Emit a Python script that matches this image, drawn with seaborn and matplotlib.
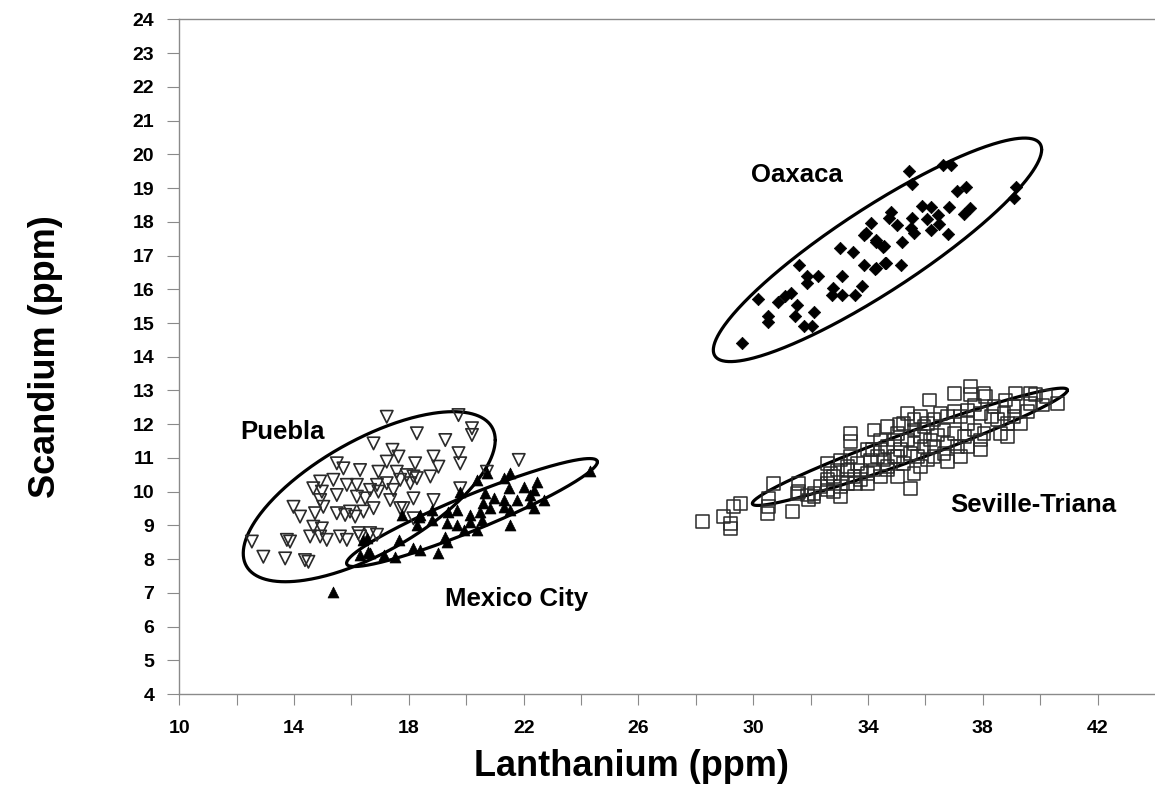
import numpy as np
import pandas as pd
import matplotlib
matplotlib.use("Agg")
import matplotlib.pyplot as plt
import seaborn as sns

# ---------------- data ----------------
puebla_x = [17.23, 18.28, 16.77, 17.43, 17.64, 17.23, 18.22, 15.49, 15.72, 16.30, 16.94, 17.58,
            17.93, 18.28, 15.37, 14.91, 15.84, 16.19, 16.89, 17.23, 17.70, 18.05, 14.67, 14.97,
            15.49, 16.65, 16.94, 17.46, 14.91, 16.19, 16.48, 13.98, 14.21, 14.73, 15.02, 15.49,
            15.78, 15.95, 16.13, 16.42, 16.77, 17.35, 17.81, 14.67, 14.97, 14.56, 14.91, 15.14,
            15.60, 16.24, 16.89, 13.75, 13.86, 12.53, 12.93, 13.69, 14.38, 14.50, 19.73, 20.20,
            20.20, 19.27, 19.73, 19.79, 18.86, 19.03, 18.75, 18.16, 21.83, 20.72, 19.79, 18.86,
            18.16, 17.70, 18.16, 16.65, 16.30, 15.84]
puebla_y = [12.22, 11.73, 11.43, 11.24, 11.04, 10.89, 10.84, 10.84, 10.69, 10.64, 10.59, 10.59,
            10.49, 10.40, 10.35, 10.30, 10.20, 10.20, 10.20, 10.25, 10.35, 10.25, 10.10, 10.00,
            9.90, 10.05, 10.00, 10.05, 9.75, 9.85, 9.80, 9.55, 9.26, 9.36, 9.55, 9.36,
            9.31, 9.41, 9.26, 9.41, 9.51, 9.75, 9.51, 8.96, 8.91, 8.67, 8.67, 8.57,
            8.67, 8.77, 8.72, 8.57, 8.52, 8.52, 8.07, 8.02, 7.97, 7.92, 12.27, 11.88,
            11.68, 11.53, 11.14, 10.84, 11.04, 10.74, 10.45, 10.45, 10.94, 10.59, 10.10, 9.75,
            9.80, 9.51, 9.21, 8.77, 8.67, 8.57]

mexico_x = [19.79, 20.37, 20.72, 21.30, 21.53, 21.48, 22.00, 22.47, 22.35, 22.70, 22.23, 22.35,
            21.77, 21.30, 21.30, 21.53, 20.95, 20.66, 20.60, 20.84, 20.49, 20.55, 20.14, 20.14,
            20.37, 19.91, 19.68, 19.68, 19.38, 19.33, 19.27, 19.33, 18.80, 18.40, 18.80, 18.28,
            17.76, 17.64, 18.16, 18.40, 19.03, 21.53, 16.42, 16.30, 16.65, 17.12, 17.52, 16.59,
            16.54, 15.37, 18.34, 24.30, 22.23]
mexico_y = [10.00, 10.35, 10.55, 10.40, 10.55, 10.10, 10.15, 10.30, 10.05, 9.75, 9.65, 9.51,
            9.75, 9.75, 9.55, 9.46, 9.80, 9.95, 9.65, 9.51, 9.41, 9.16, 9.31, 9.11,
            8.86, 8.86, 9.01, 9.46, 9.41, 9.06, 8.67, 8.52, 9.46, 9.31, 9.16, 9.01,
            9.31, 8.57, 8.32, 8.27, 8.17, 9.01, 8.57, 8.12, 8.17, 8.12, 8.07, 8.22,
            8.62, 7.03, 9.26, 10.60, 9.90]

oaxaca_x = [29.62, 30.17, 30.52, 30.52, 30.87, 31.10, 31.30, 31.53, 31.45, 31.77, 32.06, 32.12,
            31.59, 31.88, 32.27, 31.88, 32.79, 33.10, 32.76, 33.55, 33.78, 33.08, 33.01, 33.48,
            33.86, 34.24, 33.86, 34.09, 34.27, 34.53, 34.59, 35.43, 35.55, 36.63, 36.88, 37.11,
            37.41, 36.82, 37.55, 37.33, 35.89, 36.18, 36.07, 36.44, 36.47, 36.21, 36.80, 34.79,
            34.73, 35.02, 35.55, 35.49, 35.60, 35.20, 33.92, 34.27, 34.56, 34.27, 34.61, 35.14,
            39.15, 39.09]
oaxaca_y = [14.40, 15.71, 15.22, 15.02, 15.61, 15.81, 15.88, 15.54, 15.22, 14.92, 14.92, 15.32,
            16.72, 16.40, 16.40, 16.20, 16.03, 15.83, 15.83, 15.83, 16.10, 16.40, 17.22, 17.10,
            16.72, 16.59, 17.61, 17.96, 17.46, 17.26, 16.79, 19.52, 19.11, 19.70, 19.68, 18.90,
            19.03, 18.43, 18.42, 18.23, 18.46, 18.43, 18.09, 18.19, 17.94, 17.75, 17.65, 18.30,
            18.10, 17.91, 18.10, 17.81, 17.66, 17.41, 17.66, 17.41, 17.27, 16.62, 16.77, 16.72,
            19.03, 18.70]

seville_x = [28.22, 28.97, 29.21, 29.21, 29.32, 29.56, 30.54, 30.54, 30.49, 30.72, 31.36, 31.59,
             31.59, 31.88, 31.94, 32.12, 32.58, 32.70, 32.58, 32.81, 33.05, 33.39, 33.39, 33.28,
             33.51, 33.28, 33.74, 33.97, 34.21, 34.15, 34.09, 34.44, 34.56, 34.67, 34.91, 35.02,
             35.02, 35.08, 35.49, 36.13, 37.58, 37.58, 38.10, 39.15, 39.85, 40.20, 40.60, 40.08,
             39.67, 39.56, 39.09, 38.80, 38.74, 38.39, 39.32, 38.86, 38.51, 38.29, 37.93, 37.70,
             37.47, 37.23, 37.00, 36.77, 36.53, 36.30, 36.07, 37.47, 37.70, 38.04, 38.63, 38.86,
             37.93, 37.35, 37.00, 36.65, 36.42, 36.18, 35.83, 35.60, 35.60, 35.37, 35.95, 36.30,
             36.77, 37.12, 37.47, 37.93, 37.23, 36.65, 36.77, 36.30, 36.07, 35.72, 35.49, 35.14,
             34.91, 35.25, 35.83, 35.60, 34.67, 34.21, 34.44, 33.97, 33.74, 34.32, 33.97, 34.67,
             34.44, 35.25, 35.60, 35.83, 35.37, 35.95, 34.67, 35.02, 33.39, 33.05, 32.93, 32.81,
             33.62, 33.28, 32.58, 32.35, 32.12, 31.53, 32.58, 33.05, 33.57, 37.00, 38.04, 39.67,
             39.09]
seville_y = [9.11, 9.26, 9.06, 8.91, 9.56, 9.66, 9.80, 9.56, 9.36, 10.25, 9.41, 10.25,
             10.00, 9.90, 9.75, 9.85, 10.84, 10.55, 10.25, 10.00, 9.85, 11.73, 11.48, 10.64,
             10.45, 10.25, 10.64, 10.25, 11.83, 11.24, 10.94, 11.24, 10.94, 10.64, 11.53, 11.04,
             10.45, 11.98, 10.10, 12.72, 13.11, 12.87, 12.82, 12.92, 12.87, 12.82, 12.62, 12.57,
             12.62, 12.37, 12.52, 12.72, 12.32, 12.52, 12.03, 12.03, 12.13, 12.22, 12.32, 12.57,
             12.42, 12.22, 12.37, 12.22, 12.32, 12.13, 12.03, 12.03, 11.83, 11.73, 11.73, 11.63,
             11.53, 11.63, 11.73, 11.83, 11.68, 11.53, 11.63, 11.83, 11.43, 11.53, 11.33, 11.33,
             11.43, 11.33, 11.33, 11.24, 11.04, 11.14, 10.89, 11.04, 10.94, 11.04, 11.14, 11.24,
             11.04, 10.84, 10.74, 10.55, 10.74, 10.64, 10.45, 10.55, 10.35, 11.04, 11.24, 11.33,
             11.53, 12.03, 12.13, 12.22, 12.32, 11.93, 11.93, 11.73, 11.04, 10.94, 10.64, 10.45,
             10.84, 10.74, 10.35, 10.15, 9.95, 9.95, 10.05, 10.15, 10.25, 12.92, 12.92, 12.92,
             12.22]

# ellipse parameters: center (cx, cy), half x-extent ux, y offset of rightmost point uy,
# half vertical chord through the centre h
ellipse_names = ["Puebla", "Mexico City", "Oaxaca", "Seville-Triana"]
ellipse_cx = [16.62, 20.20, 34.33, 35.46]
ellipse_cy = [9.85, 9.38, 17.17, 11.33]
ellipse_ux = [4.39, 4.37, 5.72, 5.49]
ellipse_uy = [1.68, 1.50, 2.97, 1.68]
ellipse_h = [1.88, 0.56, 1.47, 0.45]

label_x = [12.12, 19.27, 29.91, 36.88]
label_y = [11.77, 6.82, 19.39, 9.60]

x_ticks = list(range(10, 43, 2))
y_ticks = list(range(4, 25))

# ---------------- figure ----------------
sns.set_theme(style="white")
plt.rcParams["font.family"] = ["Liberation Sans", "DejaVu Sans"]
plt.rcParams["font.weight"] = "bold"
plt.rcParams["text.color"] = "black"
plt.rcParams["axes.labelcolor"] = "black"
plt.rcParams["xtick.color"] = "black"
plt.rcParams["ytick.color"] = "black"

fig = plt.figure(figsize=(11.55, 7.89), dpi=100)
ax = fig.add_axes([0.1552, 0.1204, 0.8448, 0.8549])

# ellipses
t = np.linspace(0, 2 * np.pi, 400)
for cx, cy, ux, uy, h in zip(ellipse_cx, ellipse_cy, ellipse_ux, ellipse_uy, ellipse_h):
    ex = cx + ux * np.cos(t)
    ey = cy + uy * np.cos(t) + h * np.sin(t)
    ax.plot(ex, ey, color="black", lw=2.3, zorder=1)

df_p = pd.DataFrame({"La": puebla_x, "Sc": puebla_y})
df_m = pd.DataFrame({"La": mexico_x, "Sc": mexico_y})
df_o = pd.DataFrame({"La": oaxaca_x, "Sc": oaxaca_y})
df_s = pd.DataFrame({"La": seville_x, "Sc": seville_y})

sns.scatterplot(data=df_s, x="La", y="Sc", marker="s", s=85, facecolor="none",
                edgecolor="#2a2a2a", linewidth=1.1, ax=ax, zorder=2)
sns.scatterplot(data=df_p, x="La", y="Sc", marker="v", s=80, facecolor="none",
                edgecolor="#2a2a2a", linewidth=1.2, ax=ax, zorder=2)
sns.scatterplot(data=df_m, x="La", y="Sc", marker="^", s=62, color="black",
                edgecolor="black", linewidth=0.5, ax=ax, zorder=3)
sns.scatterplot(data=df_o, x="La", y="Sc", marker="D", s=40, color="black",
                edgecolor="black", linewidth=0.5, ax=ax, zorder=3)

for name, lx, ly in zip(ellipse_names, label_x, label_y):
    ax.text(lx, ly, name, fontsize=18.5, fontweight="bold", ha="left", va="center",
            color="black")

ax.set_xlim(10, 44)
ax.set_ylim(4, 24)
ax.set_xticks(x_ticks)
ax.set_xticklabels([str(v) if (v - 10) % 4 == 0 else "" for v in x_ticks])
ax.set_yticks(y_ticks)
ax.set_yticklabels([str(v) for v in y_ticks])

for side in ["left", "bottom", "top"]:
    ax.spines[side].set_visible(True)
    ax.spines[side].set_color("#8a8a8a")
    ax.spines[side].set_linewidth(1.0)
ax.spines["right"].set_visible(False)

ax.tick_params(axis="x", direction="out", length=8, width=0.8, color="#8a8a8a",
               labelcolor="black", bottom=True, pad=11, labelsize=14)
ax.tick_params(axis="y", direction="out", length=9, width=0.8, color="#8a8a8a",
               labelcolor="black", left=True, pad=9, labelsize=14)
for lab in ax.get_xticklabels() + ax.get_yticklabels():
    lab.set_fontweight("bold")

ax.set_xlabel("Lanthanium (ppm)", fontsize=26, fontweight="bold", labelpad=8,
              x=0.463, color="black")
ax.set_ylabel("Scandium (ppm)", fontsize=26, fontweight="bold", labelpad=50,
              color="black")
ax.grid(False)

fig.savefig("out.png", dpi=100, facecolor="white")
